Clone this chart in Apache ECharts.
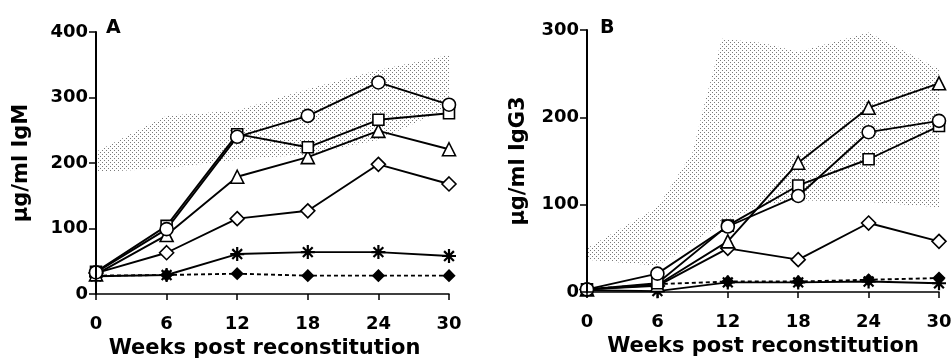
<!DOCTYPE html>
<html>
<head>
<meta charset="utf-8">
<script src="https://cdn.jsdelivr.net/npm/echarts@6/dist/echarts.min.js"></script>
<style>
html,body{margin:0;padding:0;background:#fff;}
#chart{width:952px;height:358px;}
</style>
</head>
<body>
<div id="chart"></div>
<script>
// ---- data ----
const weeks = [0, 6, 12, 18, 24, 30];
const weekTicks = ['0', '6', '12', '18', '24', '30'];

// Panel A: IgM (ug/ml)
const igmCircle   = [33, 99, 240, 272, 323, 289];
const igmSquare   = [34, 104, 244, 224, 266, 276];
const igmTriangle = [30, 90, 179, 209, 249, 221];
const igmDiamond  = [32, 63, 115, 127, 198, 168];
const igmAsterisk = [27, 29, 61, 64, 64, 58];
const igmFilled   = [28, 29, 31, 28, 28, 28];
const bandAWeeks  = [0, 6, 12, 18, 24, 30];
const bandALow    = [186, 192, 205, 213, 235, 285];
const bandAHigh   = [217, 272, 280, 313, 342, 365];

// Panel B: IgG3 (ug/ml)
const igg3Circle   = [3, 21, 75, 110, 183, 196];
const igg3Square   = [3, 10, 76, 122, 152, 190];
const igg3Triangle = [3, 8, 58, 148, 211, 239];
const igg3Diamond  = [3, 7, 50, 37, 79, 58];
const igg3Asterisk = [2, 1, 11, 11, 12, 10];
const igg3Filled   = [3, 9, 12, 12, 14, 16];
const bandBWeeks   = [0, 6, 9, 10, 11.5, 15, 18, 24, 30];
const bandBLow     = [37, 30, 55, 65, 80, 100, 105, 103, 97];
const bandBHigh    = [50, 97, 160, 215, 290, 285, 275, 297, 255];

// ---- style ----
const FONT = 'DejaVu Sans';
const pat = document.createElement('canvas');
pat.width = 4; pat.height = 4;
const pctx = pat.getContext('2d');
pctx.fillStyle = '#7a7a7a';
pctx.fillRect(0, 0, 1, 1);
pctx.fillRect(2, 2, 1, 1);

const ASTER = 'path://M10,0L10,20M0,10L20,10M3,3L17,17M3,17L17,3';

function pairs(xs, ys) { return xs.map((x, i) => [x, ys[i]]); }

function bandSeries(idx, xs, low, high) {
  return {
    type: 'custom', xAxisIndex: idx, yAxisIndex: idx, silent: true, z: 1,
    data: xs.map((x, i) => [x, low[i], high[i]]),
    renderItem: function (params, api) {
      if (params.dataIndex !== 0) return null;
      const top = xs.map((x, i) => api.coord([x, high[i]]));
      const bot = xs.map((x, i) => api.coord([x, low[i]])).reverse();
      return {
        type: 'polygon',
        shape: { points: top.concat(bot) },
        style: { fill: { image: pat, repeat: 'repeat' }, stroke: null }
      };
    }
  };
}

function lineSeries(idx, ys, symbol, size, opts) {
  opts = opts || {};
  return {
    type: 'line', xAxisIndex: idx, yAxisIndex: idx, data: pairs(weeks, ys),
    symbol: symbol, symbolSize: size, showAllSymbol: true, z: 3,
    lineStyle: { color: '#000', width: 1.9, type: opts.dash ? [4, 3] : 'solid' },
    itemStyle: { color: opts.fill || '#fff', borderColor: '#000', borderWidth: opts.bw || 1.6 }
  };
}

function panelSeries(idx, d) {
  return [
    bandSeries(idx, d.bx, d.bl, d.bh),
    lineSeries(idx, d.filled, 'diamond', 11, { dash: true, fill: '#000' }),
    lineSeries(idx, d.aster, ASTER, 14, { fill: 'none', bw: 2.2 }),
    lineSeries(idx, d.diamond, 'diamond', 14),
    lineSeries(idx, d.triangle, 'triangle', 13),
    lineSeries(idx, d.square, 'rect', 11),
    lineSeries(idx, d.circle, 'circle', 13)
  ];
}

const axisLabelStyle = { color: '#000', fontFamily: FONT, fontWeight: 'bold', fontSize: 18 };
const nameStyle = { color: '#000', fontFamily: FONT, fontWeight: 'bold', fontSize: 21 };

function xAxis(idx, pad) {
  return {
    type: 'value', gridIndex: idx, min: 0, max: 30, interval: 6, z: 5,
    name: 'Weeks post reconstitution', nameLocation: 'middle', nameGap: 43,
    nameTextStyle: Object.assign({ padding: pad }, nameStyle),
    axisLine: { show: true, onZero: false, lineStyle: { color: '#000', width: 1.5 } },
    axisTick: { show: true, length: 6, lineStyle: { color: '#000', width: 1.5 } },
    axisLabel: Object.assign({ margin: 21, formatter: v => weekTicks[weeks.indexOf(v)] }, axisLabelStyle),
    splitLine: { show: false }
  };
}
function yAxis(idx, max, name, gap) {
  return {
    type: 'value', gridIndex: idx, min: 0, max: max, interval: 100, z: 5,
    name: name, nameLocation: 'middle', nameGap: gap, nameRotate: 90,
    nameTextStyle: nameStyle,
    axisLine: { show: true, lineStyle: { color: '#000', width: 2 } },
    axisTick: { show: true, length: 7, lineStyle: { color: '#000', width: 1.5 } },
    axisLabel: Object.assign({ margin: 8 }, axisLabelStyle),
    splitLine: { show: false }
  };
}

const chart = echarts.init(document.getElementById('chart'), null, { renderer: 'canvas' });
chart.setOption({
  animation: false,
  backgroundColor: '#fff',
  title: [
    { text: 'A', left: 101, top: 14, textStyle: { fontFamily: FONT, fontWeight: 'bold', fontSize: 19, color: '#000' } },
    { text: 'B', left: 595, top: 14, textStyle: { fontFamily: FONT, fontWeight: 'bold', fontSize: 19, color: '#000' } }
  ],
  grid: [
    { left: 96, right: 503, top: 32, bottom: 64, containLabel: false, outerBoundsMode: 'none' },
    { left: 587, right: 13, top: 30, bottom: 66, containLabel: false, outerBoundsMode: 'none' }
  ],
  xAxis: [xAxis(0, [0, 16, 0, 0]), xAxis(1, 0)],
  yAxis: [yAxis(0, 400, 'μg/ml IgM', 64), yAxis(1, 300, 'μg/ml IgG3', 58)],
  series: [
    ...panelSeries(0, { bx: bandAWeeks, bl: bandALow, bh: bandAHigh, filled: igmFilled, aster: igmAsterisk,
      diamond: igmDiamond, triangle: igmTriangle, square: igmSquare, circle: igmCircle }),
    ...panelSeries(1, { bx: bandBWeeks, bl: bandBLow, bh: bandBHigh, filled: igg3Filled, aster: igg3Asterisk,
      diamond: igg3Diamond, triangle: igg3Triangle, square: igg3Square, circle: igg3Circle })
  ]
});
</script>
</body>
</html>
